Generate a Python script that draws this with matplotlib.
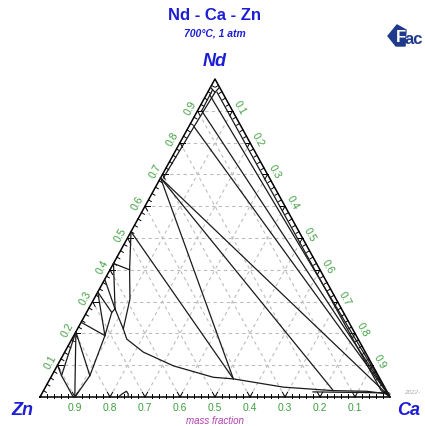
import matplotlib
matplotlib.use('Agg')
import matplotlib.pyplot as plt
import numpy as np
from matplotlib.patches import Polygon

# ---------------- data (mass fractions: Nd, Ca; Zn = 1 - Nd - Ca) ----------------
grid_values = [0.1, 0.2, 0.3, 0.4, 0.5, 0.6, 0.7, 0.8, 0.9]
base_labels = ["0.9", "0.8", "0.7", "0.6", "0.5", "0.4", "0.3", "0.2", "0.1"]  # Zn
left_labels = ["0.1", "0.2", "0.3", "0.4", "0.5", "0.6", "0.7", "0.8", "0.9"]  # Nd
right_labels = ["0.1", "0.2", "0.3", "0.4", "0.5", "0.6", "0.7", "0.8", "0.9"]  # Ca

# liquid boundary (upper) curve
liq_upper_nd = [0.277, 0.214, 0.182, 0.141, 0.098, 0.062, 0.057, 0.031, 0.020, 0.018, 0.009]
liq_upper_ca = [0.076, 0.131, 0.157, 0.225, 0.332, 0.464, 0.524, 0.680, 0.828, 0.924, 0.995]

# Zn-rich liquid boundary curve
liq_left_nd = [0.000, 0.067, 0.193, 0.266, 0.277]
liq_left_ca = [0.100, 0.109, 0.089, 0.072, 0.076]

# lens near Zn corner
lens_nd = [0.205, 0.120, 0.067, 0.000]
lens_ca = [0.000, 0.017, 0.028, 0.095]

# vertical line below NdZn2
v1_nd = [0.520, 0.400, 0.308, 0.214]
v1_ca = [0.000, 0.056, 0.103, 0.131]

# near-edge lines at Nd corner
nd_left_inner_nd = [0.958, 0.850, 0.689]
nd_left_inner_ca = [0.021, 0.015, 0.008]
nd_left_inner2_nd = [0.965, 0.900]
nd_left_inner2_ca = [0.010, 0.012]
nd_diamond_nd = [0.974, 0.958, 0.974]
nd_diamond_ca = [0.000, 0.021, 0.026]
right_inner_nd = [0.958, 0.020, 0.000]
right_inner_ca = [0.027, 0.965, 1.000]

# small arc on Ca-Zn side
arc_nd = [0.000, 0.010, 0.018, 0.010, 0.000]
arc_ca = [0.224, 0.230, 0.238, 0.247, 0.252]

# line close to the Ca-Zn side near Ca
base_line_nd = [0.016, 0.013]
base_line_ca = [0.772, 0.990]

# straight tie-lines: start (Nd, Ca) -> end (Nd, Ca)
tie_start_nd = [0.689, 0.689, 0.689, 0.520, 0.850, 0.900, 0.950,
                0.205, 0.205, 0.235, 0.330, 0.330, 0.370, 0.420, 0.420, 0.100]
tie_start_ca = [0.000, 0.000, 0.000, 0.000, 0.015, 0.012, 0.010,
                0.000, 0.000, 0.000, 0.000, 0.000, 0.000, 0.000, 0.000, 0.000]
tie_end_nd = [0.057, 0.020, 0.000, 0.057, 0.000, 0.000, 0.000,
              0.003, 0.067, 0.193, 0.266, 0.193, 0.277, 0.277, 0.400, 0.067]
tie_end_ca = [0.524, 0.828, 1.000, 0.524, 1.000, 1.000, 1.000,
              0.098, 0.109, 0.089, 0.072, 0.089, 0.076, 0.076, 0.056, 0.028]

# ---------------- figure ----------------
W, H = 425, 427
fig = plt.figure(figsize=(W / 100, H / 100), dpi=100)
bg = fig.add_axes([0, 0, 1, 1])
bg.set_xlim(0, W)
bg.set_ylim(H, 0)
bg.axis('off')

ax = fig.add_axes([40 / W, (H - 398) / H, 350 / W, 318 / H])
ax.set_xlim(0, 1)
ax.set_ylim(0, 1)
ax.axis('off')


def T(nd, ca):
    nd = np.asarray(nd, float)
    ca = np.asarray(ca, float)
    return ca + nd / 2.0, nd


FONT = 'Liberation Sans'
BLUE = '#1E1ED6'
GREEN = '#3F9F3F'
LINE = '#1a1a1a'
GRID = '#BDBDBD'

# grid
for v in grid_values:
    for nd, ca in (([v, v], [0, 1 - v]), ([0, 1 - v], [v, v]), ([0, 1 - v], [1 - v, 0])):
        x, y = T(nd, ca)
        ax.plot(x, y, color=GRID, lw=0.8, ls=(0, (3, 3)), zorder=1, clip_on=False)

# triangle
x, y = T([0, 0, 1, 0], [0, 1, 0, 0])
ax.plot(x, y, color='black', lw=1.1, zorder=3, clip_on=False)

# ticks
L = 0.011
for t in np.arange(0.02, 0.99, 0.02):
    if abs(t * 10 - round(t * 10)) < 1e-6:
        continue
    # base (Nd=0, Ca=t)
    x, y = T([-0.004, L], [t + 0.002, t - L / 2])
    ax.plot(x, y, color='black', lw=0.7, zorder=3, clip_on=False)
    # left edge (Ca=0, Nd=t)
    x, y = T([t, t - L / 2], [0, L])
    ax.plot(x, y, color='black', lw=0.7, zorder=3, clip_on=False)
    # right edge (Zn=0, Ca=t)
    x, y = T([1 - t, 1 - t - L / 2], [t, t - L / 2])
    ax.plot(x, y, color='black', lw=0.7, zorder=3, clip_on=False)

# V marks at 0.1 steps
V = 0.015
for v in grid_values:
    for a, b in (((0, v), (V, v)), ((0, v), (V, v - V))):
        x, y = T([a[0], b[0]], [a[1], b[1]])
        ax.plot(x, y, color='black', lw=0.7, zorder=3, clip_on=False)
    for a, b in (((v, 0), (v, V)), ((v, 0), (v - V, V))):
        x, y = T([a[0], b[0]], [a[1], b[1]])
        ax.plot(x, y, color='black', lw=0.7, zorder=3, clip_on=False)
    for a, b in (((1 - v, v), (1 - v - V, v)), ((1 - v, v), (1 - v, v - V))):
        x, y = T([a[0], b[0]], [a[1], b[1]])
        ax.plot(x, y, color='black', lw=0.7, zorder=3, clip_on=False)

# phase boundaries
for nd, ca in ((liq_upper_nd, liq_upper_ca), (liq_left_nd, liq_left_ca),
               (lens_nd, lens_ca), (v1_nd, v1_ca),
               (nd_left_inner_nd, nd_left_inner_ca), (nd_left_inner2_nd, nd_left_inner2_ca),
               (nd_diamond_nd, nd_diamond_ca),
               (right_inner_nd, right_inner_ca), (arc_nd, arc_ca),
               (base_line_nd, base_line_ca)):
    x, y = T(nd, ca)
    ax.plot(x, y, color=LINE, lw=0.9, zorder=4, clip_on=False)

for i in range(len(tie_start_nd)):
    x, y = T([tie_start_nd[i], tie_end_nd[i]], [tie_start_ca[i], tie_end_ca[i]])
    ax.plot(x, y, color=LINE, lw=0.9, zorder=4, clip_on=False)

# axis tick labels
for i, v in enumerate(grid_values):
    # base: Zn fraction
    x, y = T(0, 1 - float(base_labels[i]))
    ax.annotate(base_labels[i], (x, y), xytext=(0, -7.5), textcoords='offset points',
                ha='center', va='center', fontsize=7.5, color=GREEN, family=FONT)
    # left: Nd fraction
    x, y = T(float(left_labels[i]), 0)
    ax.annotate(left_labels[i], (x, y), xytext=(-5.3, 2.9), textcoords='offset points',
                ha='center', va='center', fontsize=7.5, color=GREEN, family=FONT,
                rotation=61, rotation_mode='anchor')
    # right: Ca fraction
    c = float(right_labels[i])
    x, y = T(1 - c, c)
    ax.annotate(right_labels[i], (x, y), xytext=(5.3, 2.9), textcoords='offset points',
                ha='center', va='center', fontsize=7.5, color=GREEN, family=FONT,
                rotation=-61, rotation_mode='anchor')

# titles and corner labels
bg.text(215, 16, "Nd - Ca - Zn", ha='center', va='center', fontsize=12,
        fontweight='bold', color=BLUE, family=FONT)
bg.text(215, 34, "700°C, 1 atm", ha='center', va='center', fontsize=7.5,
        fontstyle='italic', fontweight='bold', color=BLUE, family=FONT)
bg.text(215, 61, "Nd", ha='center', va='center', fontsize=13,
        fontstyle='italic', fontweight='bold', color=BLUE, family=FONT)
bg.text(22, 411, "Zn", ha='center', va='center', fontsize=13,
        fontstyle='italic', fontweight='bold', color=BLUE, family=FONT)
bg.text(409, 411, "Ca", ha='center', va='center', fontsize=13,
        fontstyle='italic', fontweight='bold', color=BLUE, family=FONT)
bg.text(215, 421, "mass fraction", ha='center', va='center', fontsize=7,
        fontstyle='italic', color='#B040B0', family=FONT)
bg.text(404, 393, "2022-", ha='left', va='center', fontsize=4.5,
        fontstyle='italic', color='#AAAAAA', family=FONT)

# logo fragment
bg.add_patch(Polygon([(388, 37), (397, 26), (406, 31), (405, 47), (396, 47)],
                     closed=True, color='#1F3A8A'))
bg.text(396, 38, "F", ha='left', va='center', fontsize=12, fontweight='bold',
        color='white', family=FONT)
bg.text(405, 39, "ac", ha='left', va='center', fontsize=12, fontweight='bold',
        color='#1F3A8A', family=FONT)

fig.savefig('out.png', dpi=100)
